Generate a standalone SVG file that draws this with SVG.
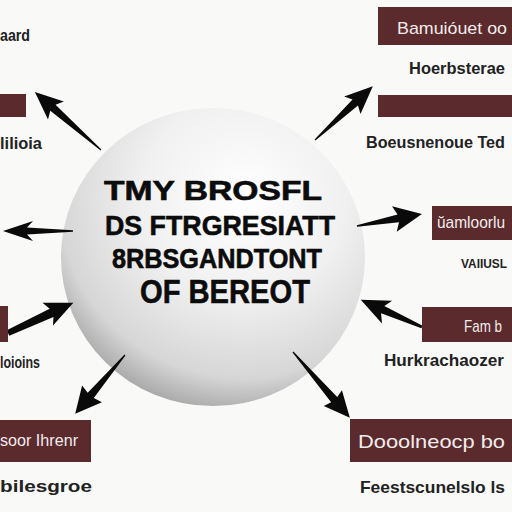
<svg xmlns="http://www.w3.org/2000/svg" width="512" height="512" viewBox="0 0 512 512">
<defs>
<radialGradient id="sph" cx="0.6" cy="0.3" r="0.76">
<stop offset="0" stop-color="#ffffff"/>
<stop offset="0.45" stop-color="#f0f0f0"/>
<stop offset="0.8" stop-color="#d6d6d6"/>
<stop offset="1" stop-color="#9c9c9c"/>
</radialGradient>
<style>
.box{fill:#5a2a2d}
.bt{font-family:"Liberation Sans",Arial,sans-serif;font-size:17px;fill:#f3ecec}
.lt{font-family:"Liberation Sans",Arial,sans-serif;font-size:17px;font-weight:bold;fill:#222}
.ct{font-family:"Liberation Sans",Arial,sans-serif;font-weight:bold;fill:#0c0c0c;stroke:#0c0c0c;stroke-width:0.6}
.arr{fill:#0a0a0a}
</style>
</defs>
<rect width="512" height="512" fill="#f9f9f8"/>
<g id="hub">
<ellipse cx="213" cy="257" rx="152" ry="149" fill="url(#sph)"/>
<text class="ct" x="104" y="200" font-size="28" textLength="218" lengthAdjust="spacingAndGlyphs">TMY BROSFL</text>
<text class="ct" x="105" y="235" font-size="28" textLength="230" lengthAdjust="spacingAndGlyphs">DS FTRGRESIATT</text>
<text class="ct" x="112" y="268" font-size="27" textLength="210" lengthAdjust="spacingAndGlyphs">8RBSGANDTONT</text>
<text class="ct" x="140" y="303" font-size="34" textLength="170" lengthAdjust="spacingAndGlyphs">OF BEREOT</text>
</g>
<g id="connectors">
<path class="arr" transform="translate(101,150) rotate(-138.7)" d="M0,-0.6 L64,-4 L60,-12 L88,0 L60,12 L64,4 L0,0.6 Z"/>
<path class="arr" transform="translate(315,140) rotate(-42.95)" d="M0,-0.6 L55,-4 L51,-12 L79,0 L51,12 L55,4 L0,0.6 Z"/>
<path class="arr" transform="translate(73,231) rotate(180)" d="M0,-0.8 L46,-3.5 L40,-10 L70,0 L40,10 L46,3.5 L0,0.8 Z"/>
<path class="arr" transform="translate(8,333) rotate(-24.8)" d="M0,-3 L48,-4.5 L44,-13 L72,0 L44,12 L48,4.5 L0,3 Z"/>
<path class="arr" transform="translate(357,226) rotate(-10.5)" d="M0,-0.8 L42,-4 L38,-13 L66,0 L38,13 L42,4 L0,0.8 Z"/>
<path class="arr" transform="translate(422,327) rotate(-156.1)" d="M0,-1.5 L43,-4 L38,-13 L67,0 L38,12 L43,4 L0,1.5 Z"/>
<path class="arr" transform="translate(125,355) rotate(130.3)" d="M0,-0.6 L53,-4 L51,-13 L77,0 L51,13 L53,4 L0,0.6 Z"/>
<path class="arr" transform="translate(293,352) rotate(49.2)" d="M0,-0.6 L63,-4 L61,-12 L87,0 L61,12 L63,4 L0,0.6 Z"/>
</g>
<g id="n-topleft">
<text class="lt" x="0" y="41" textLength="30" lengthAdjust="spacingAndGlyphs">aard</text>
<rect class="box" x="0" y="94" width="26" height="23"/>
<text class="lt" x="0" y="149" textLength="42" lengthAdjust="spacingAndGlyphs">lilioia</text>
</g>
<g id="n-topright">
<rect class="box" x="378" y="7" width="134" height="38"/>
<text class="bt" x="397" y="34" textLength="110" lengthAdjust="spacingAndGlyphs">Bamuióuet oo</text>
<text class="lt" x="409" y="74" textLength="96" lengthAdjust="spacingAndGlyphs">Hoerbsterae</text>
</g>
<g id="n-right2">
<rect class="box" x="378" y="95" width="134" height="22"/>
<text class="lt" x="366" y="148" textLength="139" lengthAdjust="spacingAndGlyphs">Boeusnenoue Ted</text>
</g>
<g id="n-midright">
<rect class="box" x="432" y="206" width="80" height="34"/>
<text class="bt" x="437" y="228" textLength="68" lengthAdjust="spacingAndGlyphs">ŭamloorlu</text>
<text class="lt" x="461" y="268" style="font-size:12px" textLength="46" lengthAdjust="spacingAndGlyphs">VAIIUSL</text>
</g>
<g id="n-lowright">
<rect class="box" x="422" y="307" width="90" height="35"/>
<text class="bt" x="464" y="332" textLength="38" lengthAdjust="spacingAndGlyphs">Fam b</text>
<text class="lt" x="384" y="366" textLength="120" lengthAdjust="spacingAndGlyphs">Hurkrachaozer</text>
</g>
<g id="n-lowleft">
<rect class="box" x="0" y="306" width="8" height="36"/>
<text class="lt" x="0" y="368" textLength="40" lengthAdjust="spacingAndGlyphs">loioins</text>
</g>
<g id="n-bottomleft">
<rect class="box" x="0" y="420" width="91" height="42"/>
<text class="bt" x="0" y="446" textLength="78" lengthAdjust="spacingAndGlyphs">soor Ihrenr</text>
<text class="lt" x="0" y="492" textLength="92" lengthAdjust="spacingAndGlyphs">bilesgroe</text>
</g>
<g id="n-bottomright">
<rect class="box" x="350" y="419" width="162" height="43"/>
<text class="bt" x="358" y="448" style="font-size:19px" textLength="147" lengthAdjust="spacingAndGlyphs">Dooolneocp bo</text>
<text class="lt" x="360" y="493" textLength="145" lengthAdjust="spacingAndGlyphs">Feestscunelslo ls</text>
</g>
</svg>
